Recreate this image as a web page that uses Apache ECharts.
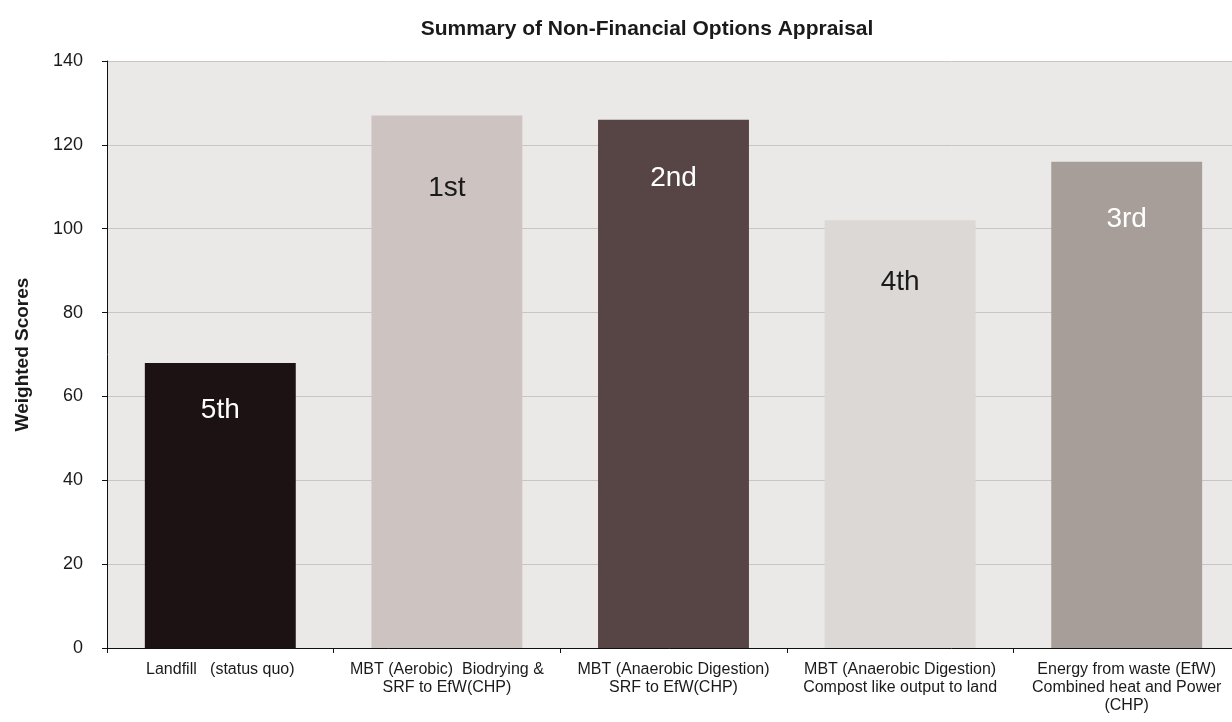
<!DOCTYPE html>
<html>
<head>
<meta charset="utf-8">
<script src="https://cdn.jsdelivr.net/npm/echarts@6/dist/echarts.min.js"></script>
<style>
  html, body { margin: 0; padding: 0; background: #ffffff; }
  #chart { width: 1232px; height: 722px; }
</style>
</head>
<body>
<div id="chart"></div>
<script>
// Options compared in the appraisal
const categories = [
  'Landfill   (status quo)',
  'MBT (Aerobic)  Biodrying &\nSRF to EfW(CHP)',
  'MBT (Anaerobic Digestion)\nSRF to EfW(CHP)',
  'MBT (Anaerobic Digestion)\nCompost like output to land',
  'Energy from waste (EfW)\nCombined heat and Power\n(CHP)'
];
// Weighted score of each option
const scores = [68, 127, 126, 102, 116];
// Ranking shown inside each bar
const ranks = ['5th', '1st', '2nd', '4th', '3rd'];
const barColors = ['#1c1213', '#cdc4c1', '#574445', '#dcd8d5', '#a89e99'];
const rankColors = ['#ffffff', '#1a1a1a', '#ffffff', '#1a1a1a', '#ffffff'];
const rankOffsets = [33, 59, 45, 48, 44];

const font = '"Liberation Sans", Arial, sans-serif';

const chart = echarts.init(document.getElementById('chart'), null, { renderer: 'canvas' });

chart.setOption({
  animation: false,
  backgroundColor: '#ffffff',
  textStyle: { fontFamily: font },
  title: {
    text: 'Summary of Non-Financial Options Appraisal',
    left: 642,
    textAlign: 'center',
    top: 14,
    textStyle: { fontFamily: font, fontSize: 21, fontWeight: 'bold', color: '#1a1a1a' }
  },
  grid: {
    left: 107,
    right: -8,
    top: 61,
    bottom: 74,
    show: true,
    backgroundColor: '#ebe9e8',
    borderWidth: 0,
    containLabel: false,
    outerBoundsMode: 'none'
  },
  xAxis: {
    type: 'category',
    data: categories,
    axisLine: { show: true, lineStyle: { color: '#111111', width: 1 } },
    axisTick: { show: true, length: 5, inside: false, lineStyle: { color: '#111111' } },
    axisLabel: {
      interval: 0,
      margin: 13,
      fontFamily: font,
      fontSize: 16,
      lineHeight: 18,
      color: '#1a1a1a',
      align: 'center'
    },
    splitLine: { show: false }
  },
  yAxis: {
    type: 'value',
    min: 0,
    max: 140,
    interval: 20,
    name: 'Weighted Scores',
    nameLocation: 'middle',
    nameRotate: 90,
    nameGap: 75,
    nameTextStyle: { fontFamily: font, fontSize: 19, fontWeight: 'bold', color: '#1a1a1a' },
    axisLine: { show: true, lineStyle: { color: '#111111', width: 1 } },
    axisTick: { show: true, length: 5, inside: false, lineStyle: { color: '#111111' } },
    axisLabel: { fontFamily: font, fontSize: 18, color: '#1a1a1a', margin: 24 },
    splitLine: { show: true, lineStyle: { color: '#c9c5c3', width: 1 } }
  },
  series: [{
    type: 'bar',
    barCategoryGap: '33.4%',
    data: scores.map((v, i) => ({
      value: v,
      itemStyle: { color: barColors[i] },
      label: {
        show: true,
        position: 'insideTop',
        distance: rankOffsets[i],
        formatter: ranks[i],
        fontFamily: font,
        fontSize: 28,
        color: rankColors[i]
      }
    }))
  }]
});
</script>
</body>
</html>
